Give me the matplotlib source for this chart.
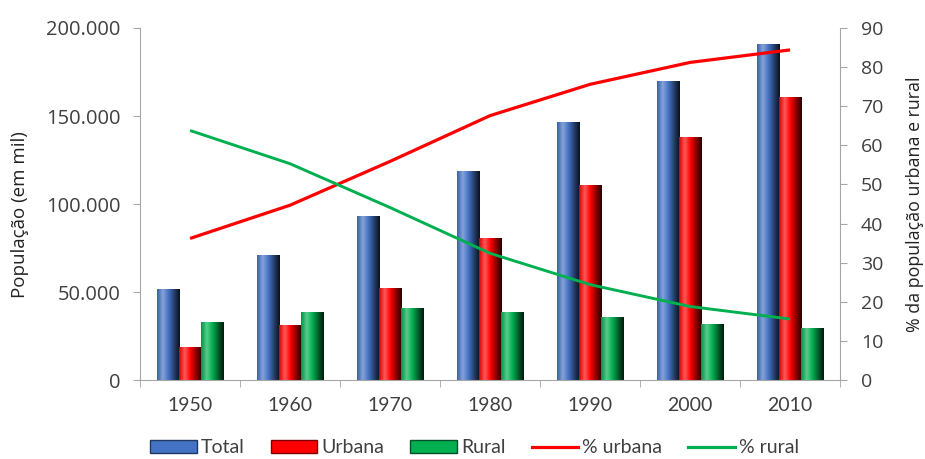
import numpy as np
import matplotlib.pyplot as plt
from matplotlib import colors
from matplotlib.patches import Patch
from matplotlib.lines import Line2D
from matplotlib.ticker import FuncFormatter, MultipleLocator, FixedLocator

anos = ['1950', '1960', '1970', '1980', '1990', '2000', '2010']
total = [51944, 70992, 93139, 119003, 146825, 169799, 190756]
urbana = [18783, 31303, 52085, 80436, 110991, 137954, 160926]
rural = [33162, 38767, 41054, 38567, 35834, 31845, 29830]
pct_urbana = [36.2, 44.7, 55.9, 67.6, 75.6, 81.2, 84.4]
pct_rural = [63.8, 55.3, 44.1, 32.4, 24.4, 18.8, 15.6]

AZUL = '#4472C4'
VERMELHO = '#FF0000'
VERDE = '#00B050'
CINZA = '#A6A6A6'
TEXTO = '#404040'

fonte_num = ['Open Sans', 'DejaVu Sans']
fonte_cat = ['Lato', 'DejaVu Sans']


def cilindro(ax, barras, cor):
    # sombreado horizontal para dar o aspecto de coluna arredondada
    base = np.array(colors.to_rgb(cor))
    claro = base + (1 - base) * 0.35
    cmap = colors.LinearSegmentedColormap.from_list(
        'c', [base * 0.85, claro, base, base * 0.55, base * 0.15])
    grad = np.linspace(0, 1, 64).reshape(1, -1)
    for b in barras:
        x0, y0 = b.get_x(), b.get_y()
        w, h = b.get_width(), b.get_height()
        im = ax.imshow(grad, cmap=cmap, aspect='auto', interpolation='bilinear',
                       extent=[x0, x0 + w, y0, y0 + h], zorder=2)
        im.set_clip_path(b)


fig = plt.figure(figsize=(9.25, 4.59), dpi=100)
ax = fig.add_axes([0.1514, 0.172, 0.7568, 0.767])

x = np.arange(len(anos))
w = 0.22
b1 = ax.bar(x - w, total, w, color=AZUL, edgecolor='none', zorder=1)
b2 = ax.bar(x, urbana, w, color=VERMELHO, edgecolor='none', zorder=1)
b3 = ax.bar(x + w, rural, w, color=VERDE, edgecolor='none', zorder=1)
for barras, cor in [(b1, AZUL), (b2, VERMELHO), (b3, VERDE)]:
    cilindro(ax, barras, cor)

ax.set_xlim(-0.5, len(anos) - 0.5)
ax.set_ylim(0, 200000)
ax.yaxis.set_major_locator(MultipleLocator(50000))
ax.yaxis.set_major_formatter(FuncFormatter(lambda v, p: f'{int(v):,}'.replace(',', '.')))
ax.set_xticks(x)
ax.set_xticklabels(anos, family=fonte_cat, fontsize=14, color=TEXTO)
ax.xaxis.set_minor_locator(FixedLocator(np.arange(-0.5, len(anos), 1.0)))
ax.tick_params(axis='x', which='major', length=0, pad=12)
ax.tick_params(axis='x', which='minor', length=5, color=CINZA, direction='out')
ax.tick_params(axis='y', length=5, color=CINZA, labelsize=14.5, labelcolor=TEXTO, pad=9)
for t in ax.get_yticklabels():
    t.set_family(fonte_num)
ax.spines['top'].set_visible(False)
ax.spines['right'].set_visible(False)
for s in ['left', 'bottom']:
    ax.spines[s].set_color(CINZA)

ax2 = ax.twinx()
ax2.plot(x, pct_urbana, color=VERMELHO, lw=2.3, solid_capstyle='butt')
ax2.plot(x, pct_rural, color=VERDE, lw=2.1, solid_capstyle='butt')
ax2.set_ylim(0, 90)
ax2.yaxis.set_major_locator(MultipleLocator(10))
ax2.tick_params(axis='y', length=5, color=CINZA, labelsize=14, labelcolor=TEXTO, pad=10)
for t in ax2.get_yticklabels():
    t.set_family(fonte_num)
for s in ['top', 'left', 'bottom']:
    ax2.spines[s].set_visible(False)
ax2.spines['right'].set_color(CINZA)

# títulos dos eixos
fig.text(0.022, 0.532, 'População (em mil)', rotation=90, ha='center', va='center',
         family=fonte_num, fontsize=13.5, color='#222222')
fig.text(0.989, 0.555, '% da população urbana e rural', rotation=90, ha='center',
         va='center', family=fonte_num, fontsize=12.8, color='#222222')

itens = [
    Patch(facecolor=AZUL, edgecolor='#1F3864', label='Total'),
    Patch(facecolor=VERMELHO, edgecolor='#7F0000', label='Urbana'),
    Patch(facecolor=VERDE, edgecolor='#00502A', label='Rural'),
    Line2D([], [], color=VERMELHO, lw=2.3, label='% urbana'),
    Line2D([], [], color=VERDE, lw=2.3, label='% rural'),
]
fig.legend(handles=itens, loc='center', bbox_to_anchor=(0.513, 0.024), ncol=5,
           frameon=False, handlelength=2.4, handleheight=0.7, handletextpad=0.2,
           columnspacing=1.35, borderpad=0, prop={'family': fonte_cat, 'size': 14})
for t in fig.legends[0].get_texts():
    t.set_color(TEXTO)

fig.savefig('out.png', dpi=100)
